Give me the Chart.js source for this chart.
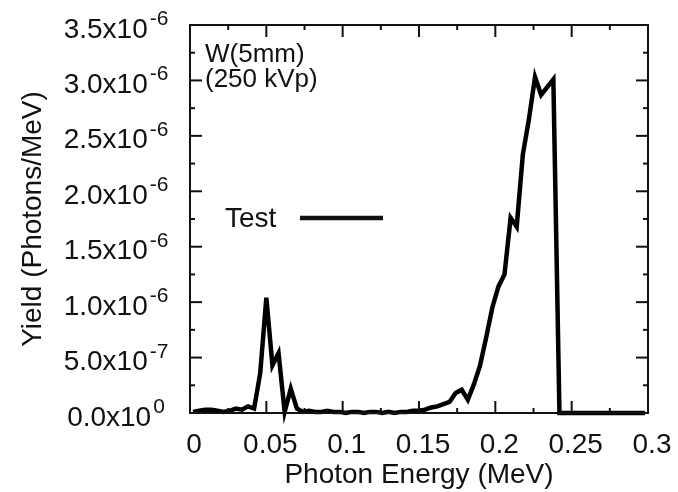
<!DOCTYPE html>
<html>
<head>
<meta charset="utf-8">
<script src="https://cdn.jsdelivr.net/npm/chart.js@4.4.1/dist/chart.umd.min.js"></script>
<style>
    html, body { margin: 0; padding: 0; background: #fff; }
    #wrap { width: 678px; height: 492px; }
</style>
</head>
<body>
<div id="wrap"><canvas id="yieldChart" width="678" height="492"></canvas></div>
<script>
// --- Data ---
const energies = [
    0.002, 0.006, 0.010, 0.014, 0.018, 0.022, 0.026, 0.030, 0.034, 0.038,
    0.042, 0.046, 0.050, 0.054, 0.058, 0.062, 0.066, 0.070, 0.074, 0.078,
    0.082, 0.086, 0.090, 0.094, 0.098, 0.102, 0.106, 0.110, 0.114, 0.118,
    0.122, 0.126, 0.130, 0.134, 0.138, 0.142, 0.146, 0.150, 0.154, 0.158,
    0.162, 0.166, 0.170, 0.174, 0.178, 0.182, 0.186, 0.190, 0.194, 0.198,
    0.202, 0.206, 0.210, 0.214, 0.218, 0.222, 0.226, 0.230, 0.234, 0.238,
    0.242, 0.246, 0.250, 0.254, 0.258, 0.262, 0.266, 0.270, 0.274, 0.278,
    0.282, 0.286, 0.290, 0.294, 0.298
];
const yields = [
    0.01e-6, 0.02e-6, 0.03e-6, 0.03e-6, 0.02e-6, 0.01e-6, 0.02e-6, 0.04e-6, 0.03e-6, 0.06e-6,
    0.04e-6, 0.36e-6, 1.04e-6, 0.43e-6, 0.54e-6, 0.01e-6, 0.22e-6, 0.04e-6, 0.01e-6, 0.02e-6,
    0.01e-6, 0.01e-6, 0.02e-6, 0.01e-6, 0.01e-6, 0.00e-6, 0.01e-6, 0.01e-6, 0.00e-6, 0.01e-6,
    0.01e-6, 0.00e-6, 0.01e-6, 0.00e-6, 0.01e-6, 0.01e-6, 0.02e-6, 0.02e-6, 0.03e-6, 0.05e-6,
    0.06e-6, 0.08e-6, 0.10e-6, 0.18e-6, 0.21e-6, 0.12e-6, 0.26e-6, 0.43e-6, 0.68e-6, 0.95e-6,
    1.14e-6, 1.25e-6, 1.76e-6, 1.68e-6, 2.33e-6, 2.65e-6, 3.03e-6, 2.87e-6, 2.94e-6, 3.01e-6,
    0, 0, 0, 0, 0, 0, 0, 0, 0, 0,
    0, 0, 0, 0, 0
];
const seriesLabel = 'Test';
const titleLines = ['W(5mm)', '(250 kVp)'];

const xMajorTicks = [0, 0.05, 0.1, 0.15, 0.2, 0.25, 0.3];
const xMinorTicks = [0.025, 0.075, 0.125, 0.175, 0.225, 0.275];
const xTickLabels = ['0', '0.05', '0.1', '0.15', '0.2', '0.25', '0.3'];

const yMajorTicks = [0, 0.5e-6, 1.0e-6, 1.5e-6, 2.0e-6, 2.5e-6, 3.0e-6, 3.5e-6];
const yMinorTicks = [0.25e-6, 0.75e-6, 1.25e-6, 1.75e-6, 2.25e-6, 2.75e-6, 3.25e-6];
const yTickMantissa = ['0.0', '5.0', '1.0', '1.5', '2.0', '2.5', '3.0', '3.5'];
const yTickExponent = ['0', '-7', '-6', '-6', '-6', '-6', '-6', '-6'];

const xTitle = 'Photon Energy (MeV)';
const yTitle = 'Yield (Photons/MeV)';

document.addEventListener('DOMContentLoaded', () => {
    const FONT = '"Liberation Sans", Arial, Helvetica, sans-serif';
    const INK = '#111';

    // --- Frame, inward ticks, labels, legend ---
    const decorations = {
        id: 'decorations',
        afterDatasetsDraw(chart) {
            const { ctx, chartArea: a, scales: { x, y } } = chart;
            ctx.save();
            ctx.strokeStyle = INK;
            ctx.fillStyle = INK;
            ctx.lineWidth = 2;
            ctx.strokeRect(a.left, a.top, a.right - a.left, a.bottom - a.top);

            const tick = (x1, y1, x2, y2) => {
                ctx.beginPath();
                ctx.moveTo(x1, y1);
                ctx.lineTo(x2, y2);
                ctx.stroke();
            };
            const xt = (vals, len) => vals.forEach(v => {
                const px = x.getPixelForValue(v);
                tick(px, a.bottom, px, a.bottom - len);
                tick(px, a.top, px, a.top + len);
            });
            const yt = (vals, len) => vals.forEach(v => {
                const py = y.getPixelForValue(v);
                tick(a.left, py, a.left + len, py);
                tick(a.right, py, a.right - len, py);
            });
            xt(xMajorTicks, 12); xt(xMinorTicks, 5);
            yt(yMajorTicks, 12); yt(yMinorTicks, 5);

            // x tick labels
            ctx.font = `28px ${FONT}`;
            ctx.textAlign = 'center';
            ctx.textBaseline = 'alphabetic';
            xMajorTicks.forEach((v, i) => {
                ctx.fillText(xTickLabels[i], x.getPixelForValue(v) + 4, 453);
            });

            // y tick labels with superscript exponent
            yMajorTicks.forEach((v, i) => {
                const py = y.getPixelForValue(v);
                ctx.font = `28px ${FONT}`;
                const main = yTickMantissa[i] + 'x10';
                const w1 = ctx.measureText(main).width;
                ctx.font = `21px ${FONT}`;
                const w2 = ctx.measureText(yTickExponent[i]).width;
                const start = 116 - (w1 + 2 + w2) / 2;
                ctx.textAlign = 'left';
                ctx.font = `28px ${FONT}`;
                ctx.fillText(main, start, py + 12.5);
                ctx.font = `21px ${FONT}`;
                ctx.fillText(yTickExponent[i], start + w1 + 2, py);
            });

            // axis titles
            ctx.font = `28px ${FONT}`;
            ctx.textAlign = 'center';
            ctx.fillText(xTitle, (a.left + a.right) / 2, 483);
            ctx.save();
            ctx.translate(41, (a.top + a.bottom) / 2);
            ctx.rotate(-Math.PI / 2);
            ctx.fillText(yTitle, 0, 0);
            ctx.restore();

            // in-plot title
            ctx.font = `26px ${FONT}`;
            ctx.textAlign = 'left';
            ctx.fillText(titleLines[0], a.left + 15, 62);
            ctx.fillText(titleLines[1], a.left + 15, 87);

            // legend
            ctx.font = `28px ${FONT}`;
            ctx.fillText(chart.data.datasets[0].label, 225, 227);
            ctx.lineWidth = 4.5;
            tick(300, 218, 383, 218);
            ctx.restore();
        }
    };

    // --- Chart ---
    const ctx = document.getElementById('yieldChart').getContext('2d');
    new Chart(ctx, {
        type: 'line',
        data: {
            datasets: [{
                label: seriesLabel,
                data: energies.map((e, i) => ({ x: e, y: yields[i] })),
                borderColor: '#000',
                borderWidth: 4.5,
                borderJoinStyle: 'miter',
                pointRadius: 0,
                tension: 0,
                fill: false,
                clip: false
            }]
        },
        options: {
            responsive: false,
            animation: false,
            devicePixelRatio: 1,
            layout: { padding: { left: 190, top: 25, right: 30, bottom: 79 } },
            plugins: { legend: { display: false }, tooltip: { enabled: false } },
            scales: {
                x: { type: 'linear', min: 0, max: 0.3, display: false },
                y: { type: 'linear', min: 0, max: 3.5e-6, display: false }
            }
        },
        plugins: [decorations]
    });
});
</script>
</body>
</html>
